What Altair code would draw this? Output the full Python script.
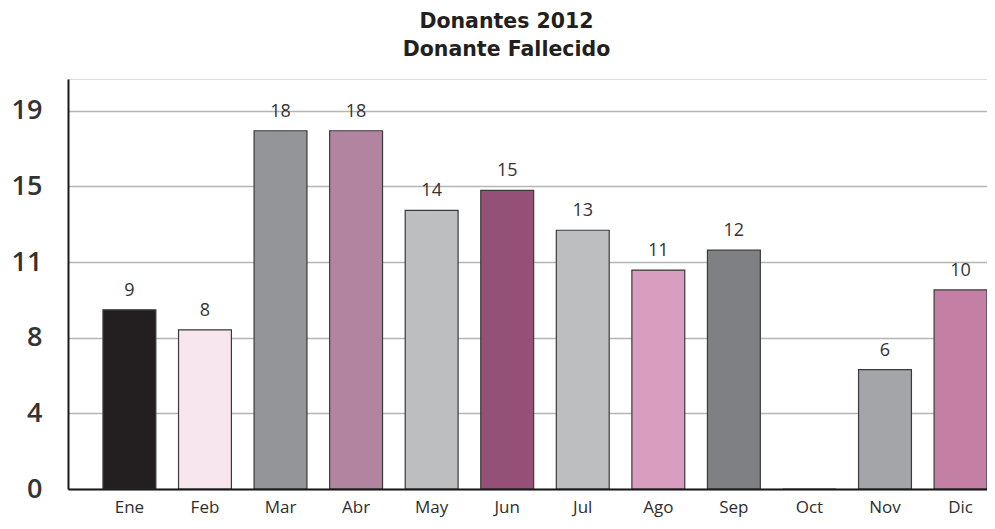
import altair as alt
import pandas as pd

MONTHS = ["Ene", "Feb", "Mar", "Abr", "May", "Jun", "Jul", "Ago", "Sep", "Oct", "Nov", "Dic"]
VALUES = [9, 8, 18, 18, 14, 15, 13, 11, 12, 0, 6, 10]
COLORS = ["#231f20", "#f8e6ee", "#939598", "#b3849f", "#bcbec0", "#955077",
          "#bcbec0", "#d89dbf", "#7f8083", "#ffffff", "#a3a5a8", "#c380a4"]
Y_TICKS = [0, 3.8, 7.6, 11.4, 15.2, 19]
TITLE = ["Donantes 2012", "Donante Fallecido"]

df = pd.DataFrame({"mes": MONTHS, "v": VALUES})

x = alt.X(
    "mes:N",
    sort=MONTHS,
    title=None,
    scale=alt.Scale(paddingInner=0.30, paddingOuter=0.2314, align=1),
    axis=alt.Axis(
        labelAngle=0, ticks=False, grid=False,
        domainColor="#1a1a1a", domainWidth=2,
        labelFont="Open Sans", labelFontSize=17, labelColor="#2e2e2e",
        labelBaseline="alphabetic", labelPadding=23, zindex=1,
    ),
)
y = alt.Y(
    "v:Q",
    title=None,
    scale=alt.Scale(domain=[0, 20.6], nice=False, zero=True),
    axis=alt.Axis(
        values=Y_TICKS, labelExpr="format(datum.value, '.0f')",
        ticks=False, grid=True, gridColor="#b5b5b5", gridWidth=1.5,
        domainColor="#1a1a1a", domainWidth=2,
        labelFont="Open Sans", labelFontSize=27, labelFontWeight=600,
        labelColor="#333333", labelPadding=26,
    ),
)

bars = alt.Chart(df).mark_bar(stroke="#3a3a3a", strokeWidth=1.2).encode(
    x=x, y=y,
    color=alt.Color("mes:N", sort=MONTHS,
                    scale=alt.Scale(domain=MONTHS, range=COLORS), legend=None),
)

labels = alt.Chart(df).transform_filter("datum.v > 0").mark_text(
    dy=-14, baseline="alphabetic", font="Open Sans", fontSize=18, color="#333333"
).encode(x=alt.X("mes:N", sort=MONTHS), y="v:Q", text="v:Q")

chart = alt.layer(bars, labels).properties(
    width=919, height=410,
    title=alt.TitleParams(
        text=TITLE, font="DejaVu Sans", fontSize=20.5, fontWeight="bold",
        color="#231f20", lineHeight=28, anchor="middle", dx=-21, offset=19,
    ),
    autosize=alt.AutoSizeParams(type="none"),
    padding={"left": 60, "top": 71, "right": 0, "bottom": 28},
).configure_view(stroke=None).configure(background="white")

chart.save("out.html", embed_options={"renderer": "svg", "actions": False})
